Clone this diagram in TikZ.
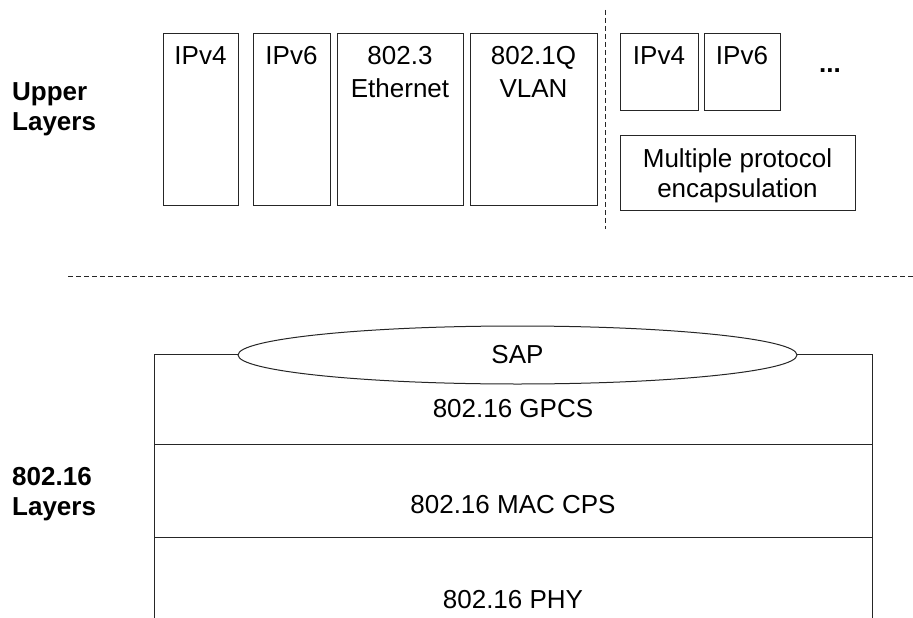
\documentclass[tikz,border=0pt]{standalone}
\usepackage{fontspec}
\setmainfont{Liberation Sans}
\usetikzlibrary{shapes.geometric}
\begin{document}
\begin{tikzpicture}[x=1pt,y=-1pt,
  font=\fontsize{26}{31}\selectfont,
  box/.style={draw=black!85, line width=1pt, inner sep=0pt, anchor=north west, fill=white},
  txt/.style={anchor=base, inner sep=0pt},
  side/.style={anchor=base west, inner sep=0pt, font=\fontsize{26}{31}\selectfont\bfseries},
  sep/.style={draw=black!85, line width=1pt, dash pattern=on 5pt off 3pt}]
\clip (0,0) rectangle (913,618);
\fill[white] (0,0) rectangle (913,618);

% upper layer boxes
\node[box, minimum width=75, minimum height=172] (ipv4a) at (163,33) {};
\node[box, minimum width=77, minimum height=172] (ipv6a) at (253,33) {};
\node[box, minimum width=126, minimum height=172] (eth) at (337,33) {};
\node[box, minimum width=127, minimum height=172] (vlan) at (470,33) {};
\node[box, minimum width=78, minimum height=77] (ipv4b) at (620,33) {};
\node[box, minimum width=76, minimum height=77] (ipv6b) at (704,33) {};
\node[box, minimum width=235, minimum height=75] (mpe) at (620,135) {};

\node[txt] (t1) at (200.5,65) {IPv4};
\node[txt] (t2) at (291.5,65) {IPv6};
\node[txt] (t3) at (400,65) {802.3};
\node[txt] (t3b) at (400,97) {Ethernet};
\node[txt] (t4) at (533.5,65) {802.1Q};
\node[txt] (t4b) at (533.5,97) {VLAN};
\node[txt] (t5) at (659,65) {IPv4};
\node[txt] (t6) at (742,65) {IPv6};
\node[txt, font=\fontsize{26}{31}\selectfont\bfseries] (dots) at (830,73) {...};
\node[txt] (t7) at (737.5,167) {Multiple protocol};
\node[txt] (t7b) at (737.5,197) {encapsulation};

% separators
\coordinate (vtop) at (605,10);
\coordinate (vbot) at (605,229);
\draw[sep] (vtop) -- (vbot);
\coordinate (hl) at (68,276);
\coordinate (hr) at (913,276);
\draw[sep] (hl) -- (hr);

% 802.16 stack
\node[box, minimum width=718, minimum height=90] (gpcs) at (154,354) {};
\node[box, minimum width=718, minimum height=93] (mac) at (154,444) {};
\node[box, minimum width=718, minimum height=120] (phy) at (154,537) {};
\node[ellipse, draw=black!85, line width=1pt, fill=white, inner sep=0pt,
      minimum width=559, minimum height=58] (sap) at (517.5,355) {SAP};

\node[txt] (l1) at (513,417) {802.16 GPCS};
\node[txt] (l2) at (513,513) {802.16 MAC CPS};
\node[txt] (l3) at (513,608) {802.16 PHY};

% side labels
\node[side] (u1) at (12,100) {Upper};
\node[side] (u2) at (12,130) {Layers};
\node[side] (w1) at (12,485) {802.16};
\node[side] (w2) at (12,515) {Layers};
\end{tikzpicture}
\end{document}
